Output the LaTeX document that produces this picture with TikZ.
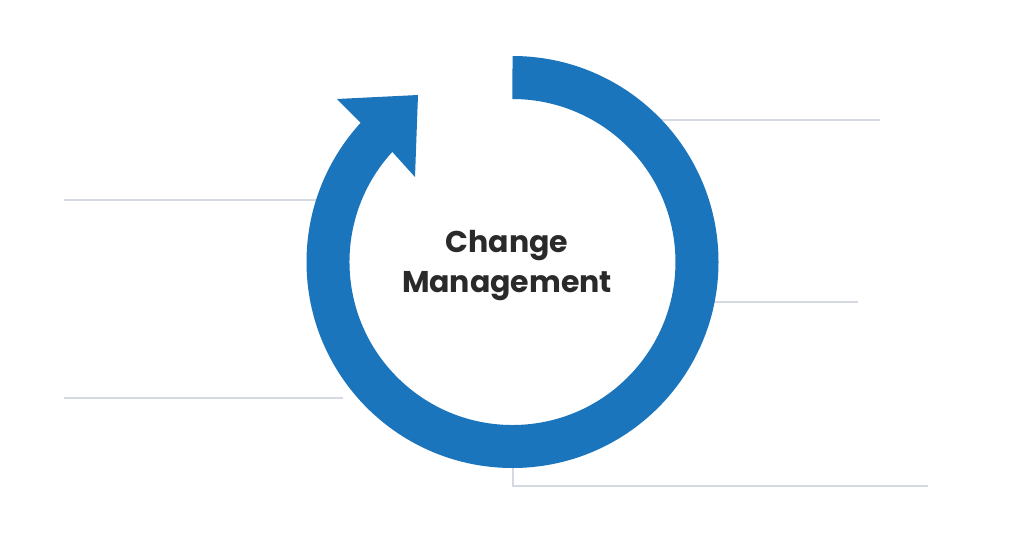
\documentclass[tikz,border=0pt]{standalone}
\usepackage{fontspec}
\newfontfamily\titlefont{Poppins}
\definecolor{ringblue}{HTML}{1B75BC}
\definecolor{guide}{HTML}{D5DAE2}
\definecolor{ink}{HTML}{2A2A2A}
\begin{document}
\begin{tikzpicture}[x=1pt,y=1pt,
  guideline/.style={draw=guide,line width=1.3pt},
  ringfill/.style={fill=ringblue},
  title/.style={font=\titlefont\bfseries\fontsize{30}{40}\selectfont,text=ink,align=center,inner sep=0pt}]
\fill[white] (0,0) rectangle (1024,536);
\useasboundingbox (0,0) rectangle (1024,536);
% guide lines
\coordinate (tr1) at (660,416); \coordinate (tr2) at (880,416);
\coordinate (rm1) at (714,234); \coordinate (rm2) at (858,234);
\coordinate (lt1) at (64,336);  \coordinate (lt2) at (318,336);
\coordinate (lb1) at (64,138);  \coordinate (lb2) at (343,138);
\coordinate (bt1) at (513,70);  \coordinate (bt2) at (513,50); \coordinate (bt3) at (928,50);
\draw[guideline] (tr1) -- (tr2);
\draw[guideline] (rm1) -- (rm2);
\draw[guideline] (lt1) -- (lt2);
\draw[guideline] (lb1) -- (lb2);
\draw[guideline] (bt1) -- (bt2) -- (bt3);
% ring with arrow head
\coordinate (c) at (512.5,274);
\fill[ringfill] (512.5,480) arc[start angle=90,end angle=-222.5,radius=206]
  -- (337,437) -- (418,441) -- (415,359) -- (392.3,384.1)
  arc[start angle=-222.5,end angle=90,radius=163] -- cycle;
\node[title] (t) at (507,270) {Change\\Management};
\end{tikzpicture}
\end{document}
